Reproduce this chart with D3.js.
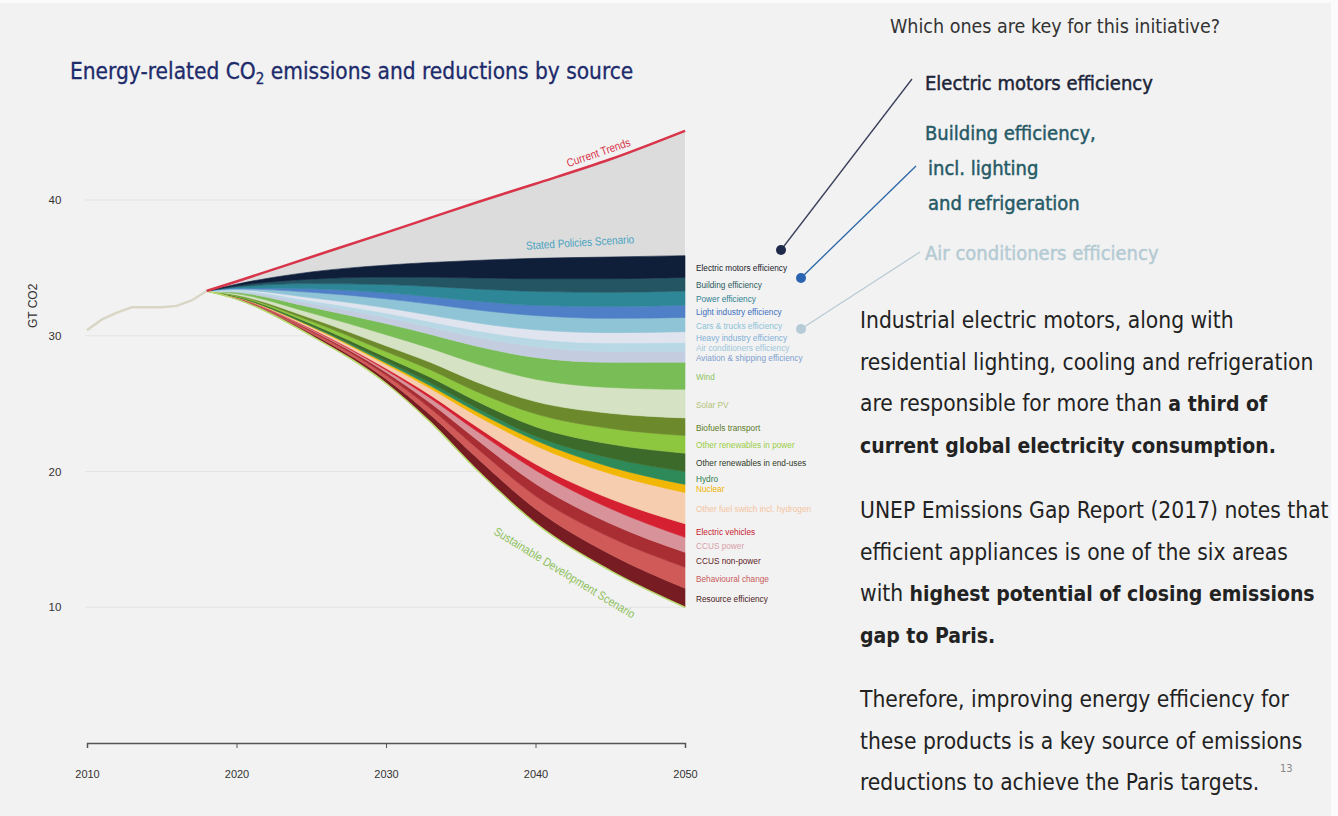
<!DOCTYPE html>
<html>
<head>
<meta charset="utf-8">
<script src="https://cdn.jsdelivr.net/npm/d3@7"></script>
<style>
  body { margin: 0; background: #f2f2f2; }
  svg { display: block; }
</style>
</head>
<body>
<svg id="chart" width="1338" height="816"></svg>
<script>
// ---- data (GT CO2) ----
const histYears = [2010, 2011, 2012, 2013, 2014, 2015, 2016, 2017, 2018];
const histValues = [30.4, 31.2, 31.7, 32.1, 32.1, 32.1, 32.2, 32.6, 33.3];

const years = [2018, 2020, 2025, 2030, 2033, 2036, 2040, 2045, 2050];
const currentTrends = [33.3, 34.0, 35.8, 37.6, 38.7, 39.8, 41.2, 43.0, 45.1];
const statedPolicies = [33.3, 33.8, 34.7, 35.2, 35.4, 35.55, 35.7, 35.8, 35.9];
const sustainable = [33.3, 32.7, 30.0, 26.5, 23.6, 20.2, 16.2, 12.7, 10.0];

// reductions, listed from the top of the wedge down
const electricMotors = [0, 0.12, 0.53, 0.88, 1.09, 1.29, 1.5, 1.6, 1.6];
const building = [0, 0.08, 0.33, 0.55, 0.68, 0.81, 0.93, 1.0, 1.0];
const power = [0, 0.08, 0.37, 0.61, 0.75, 0.89, 1.03, 1.05, 1.05];
const lightIndustry = [0, 0.06, 0.27, 0.44, 0.55, 0.65, 0.75, 0.87, 0.9];
const carsTrucks = [0, 0.09, 0.4, 0.66, 0.82, 0.95, 1.05, 1.05, 1.05];
const heavyIndustry = [0, 0.06, 0.23, 0.39, 0.48, 0.57, 0.68, 0.77, 0.8];
const airConditioners = [0, 0.05, 0.2, 0.33, 0.41, 0.48, 0.56, 0.62, 0.65];
const aviationShipping = [0, 0.06, 0.27, 0.44, 0.52, 0.66, 0.8, 0.8, 0.8];
const wind = [0, 0.1, 0.42, 0.82, 1.03, 1.3, 1.6, 1.85, 2.0];
const solarPV = [0, 0.1, 0.4, 0.82, 1.04, 1.33, 1.65, 1.9, 2.1];
const biofuels = [0, 0.05, 0.2, 0.42, 0.55, 0.7, 0.9, 1.12, 1.3];
const renPower = [0, 0.05, 0.2, 0.42, 0.55, 0.7, 0.95, 1.15, 1.3];
const renEndUses = [0, 0.03, 0.12, 0.28, 0.41, 0.5, 0.7, 1.03, 1.35];
const hydro = [0, 0.02, 0.06, 0.14, 0.22, 0.27, 0.3, 0.65, 0.95];
const nuclear = [0, 0.01, 0.05, 0.12, 0.2, 0.3, 0.4, 0.5, 0.6];
const fuelSwitch = [0, 0.02, 0.12, 0.28, 0.5, 0.8, 1.35, 1.85, 2.3];
const electricVehicles = [0, 0.01, 0.06, 0.12, 0.22, 0.32, 0.45, 0.72, 1.0];
const ccusPower = [0, 0.01, 0.06, 0.16, 0.36, 0.62, 1.0, 1.1, 1.1];
const ccusNonPower = [0, 0.02, 0.09, 0.22, 0.4, 0.62, 0.9, 1.02, 1.1];
const behavioural = [0, 0.04, 0.15, 0.28, 0.47, 0.7, 0.95, 1.25, 1.55];
const resourceEff = [0, 0.04, 0.17, 0.32, 0.55, 0.89, 1.05, 1.2, 1.4];

const layerNames = [
  'Electric motors efficiency', 'Building efficiency', 'Power efficiency',
  'Light industry efficiency', 'Cars & trucks efficiency', 'Heavy industry efficiency',
  'Air conditioners efficiency', 'Aviation & shipping efficiency', 'Wind', 'Solar PV',
  'Biofuels transport', 'Other renewables in power', 'Other renewables in end-uses',
  'Hydro', 'Nuclear', 'Other fuel switch incl. hydrogen', 'Electric vehicles',
  'CCUS power', 'CCUS non-power', 'Behavioural change', 'Resource efficiency'
];
const layerValues = [
  electricMotors, building, power, lightIndustry, carsTrucks, heavyIndustry,
  airConditioners, aviationShipping, wind, solarPV, biofuels, renPower, renEndUses,
  hydro, nuclear, fuelSwitch, electricVehicles, ccusPower, ccusNonPower,
  behavioural, resourceEff
];
const layerColors = [
  '#0f1f3a', '#235563', '#2e8797', '#4f7fc6', '#8fc4d6', '#dfe4ee',
  '#b8d8e6', '#c4cce0', '#78bd55', '#d5e2c3', '#6c8a2b', '#8dc63f', '#3c6a2a',
  '#2f8a5a', '#f2b705', '#f7cdb0', '#d42030', '#d8939a', '#a82e34',
  '#cf5a58', '#761c22'
];
const labelColors = [
  '#1a1a2e', '#2d5a60', '#2f7f92', '#3f6fc0', '#8cc3d8', '#7fb0d8',
  '#a0c8dc', '#7f9fcf', '#8cc460', '#b5c27a', '#5c7a2a', '#9acd45', '#2f3a28',
  '#2e7d4f', '#f0b400', '#f5c4a0', '#c8202f', '#d9a0a8', '#5a1a1e',
  '#c85a5a', '#4a1a1a'
];

const xTicks = [2010, 2020, 2030, 2040, 2050];
const yTicks = [10, 20, 30, 40];

// ---- layout ----
const svg = d3.select('#chart');
const sans = "'Liberation Sans', Arial, sans-serif";
const slide = "'DejaVu Sans Condensed', 'DejaVu Sans', sans-serif";

const x = d3.scaleLinear().domain([2010, 2050]).range([87, 685]);
const y = d3.scaleLinear().domain([0, 40]).range([743, 200]);

// slide frame edges
svg.append('rect').attr('x', 0).attr('y', 0).attr('width', 1338).attr('height', 3).attr('fill', '#fbfbfb');
svg.append('rect').attr('x', 1331).attr('y', 0).attr('width', 7).attr('height', 816).attr('fill', '#fbfbfb');

// narrow label helper: squeeze text horizontally like a condensed face
const narrowText = (g, px, py, angle, txt, size, color, anchor) =>
  g.append('text')
    .attr('transform', `translate(${px},${py}) rotate(${angle}) scale(0.87,1)`)
    .attr('text-anchor', anchor || 'start')
    .attr('font-family', sans)
    .attr('font-size', size)
    .attr('fill', color)
    .text(txt);

// gridlines
svg.append('g')
  .selectAll('line')
  .data(yTicks)
  .join('line')
  .attr('x1', x(2010) - 2)
  .attr('x2', x(2050))
  .attr('y1', (d) => y(d))
  .attr('y2', (d) => y(d))
  .attr('stroke', '#e4e4e4')
  .attr('stroke-width', 1);

// y tick labels (no axis line)
svg.append('g')
  .selectAll('text')
  .data(yTicks)
  .join('text')
  .attr('x', 55)
  .attr('y', (d) => y(d) + 4)
  .attr('text-anchor', 'middle')
  .attr('font-family', sans)
  .attr('font-size', 11.5)
  .attr('fill', '#333')
  .text((d) => d);

svg.append('text')
  .attr('transform', `translate(37,${y(32.2)}) rotate(-90)`)
  .attr('text-anchor', 'middle')
  .attr('font-family', sans)
  .attr('font-size', 12)
  .attr('fill', '#333')
  .text('GT CO2');

// x axis
const xAxisGroup = svg.append('g')
  .attr('transform', `translate(0,${y(0)})`)
  .call(d3.axisBottom(x).tickValues(xTicks).tickFormat(d3.format('d')).tickSize(5).tickPadding(22));
xAxisGroup.select('.domain').attr('stroke', '#555').attr('stroke-width', 1.5);
xAxisGroup.selectAll('.tick line').attr('stroke', '#555');
xAxisGroup.selectAll('.tick text')
  .attr('font-family', sans)
  .attr('font-size', 11)
  .attr('fill', '#333');

// stacked wedges, sitting on the sustainable development path
const rows = years.map((yr, i) => {
  const r = { year: yr };
  layerNames.forEach((n, k) => { r[n] = layerValues[k][i]; });
  return r;
});
const stacked = d3.stack().keys(layerNames.slice().reverse())(rows);
const colorOf = d3.scaleOrdinal().domain(layerNames).range(layerColors);

const area = d3.area()
  .x((d, i) => x(years[i]))
  .y0((d, i) => y(d[0] + sustainable[i]))
  .y1((d, i) => y(d[1] + sustainable[i]))
  .curve(d3.curveMonotoneX);

// grey band between current trends and the top of the wedges
const topSeries = stacked[stacked.length - 1];
svg.append('path')
  .datum(years)
  .attr('fill', '#dcdcdc')
  .attr('d', d3.area()
    .x((d) => x(d))
    .y0((d, i) => y(topSeries[i][1] + sustainable[i]))
    .y1((d, i) => y(currentTrends[i]))
    .curve(d3.curveMonotoneX));

svg.append('g')
  .selectAll('path')
  .data(stacked)
  .join('path')
  .attr('fill', (d) => colorOf(d.key))
  .attr('stroke', (d) => colorOf(d.key))
  .attr('stroke-width', 0.6)
  .attr('d', area);

const line = d3.line().x((d, i) => x(years[i])).y((d) => y(d)).curve(d3.curveMonotoneX);

svg.append('path')
  .datum(sustainable)
  .attr('fill', 'none')
  .attr('stroke', '#b9dc6e')
  .attr('stroke-width', 1.5)
  .attr('d', line);

svg.append('path')
  .datum(currentTrends)
  .attr('fill', 'none')
  .attr('stroke', '#d8344a')
  .attr('stroke-width', 2.5)
  .attr('d', line);

svg.append('path')
  .datum(histValues)
  .attr('fill', 'none')
  .attr('stroke', '#d9d6c6')
  .attr('stroke-width', 2.5)
  .attr('d', d3.line().x((d, i) => x(histYears[i])).y((d) => y(d)));

// scenario labels
narrowText(svg, x(2044.3), y(42.7) - 7, -19, 'Current Trends', 11.5, '#d8344a', 'middle');
narrowText(svg, x(2043.0), y(35.7) - 12, -3.5, 'Stated Policies Scenario', 11.5, '#4aa3c0', 'middle');
narrowText(svg, x(2041.8), y(14.2) + 26, 31.5, 'Sustainable Development Scenario', 12, '#8cbf5a', 'middle');

// wedge labels at 2050
const last = years.length - 1;
const labelGroup = svg.append('g');
stacked.forEach((d) => {
  const mid = (d[last][0] + d[last][1]) / 2 + sustainable[last];
  narrowText(labelGroup, x(2050) + 11, y(mid) + 4, 0, d.key, 9.5,
    labelColors[layerNames.indexOf(d.key)]);
});

// title
const title = svg.append('text')
  .attr('x', 70)
  .attr('y', 79)
  .attr('font-family', slide)
  .attr('font-size', 22.5)
  .attr('fill', '#1d2b6b')
  .attr('stroke', '#1d2b6b')
  .attr('stroke-width', 0.3);
title.append('tspan').text('Energy-related CO');
title.append('tspan').attr('font-size', 15).attr('dy', 5).text('2');
title.append('tspan').attr('dy', -5).text(' emissions and reductions by source');

// ---- right-hand panel ----
svg.append('text')
  .attr('x', 890)
  .attr('y', 33)
  .attr('font-family', slide)
  .attr('font-size', 19.5)
  .attr('fill', '#333')
  .text('Which ones are key for this initiative?');

const callouts = [
  { lines: ['Electric motors efficiency'], color: '#1c2438', lineColor: '#3a3f5a', dot: '#1f2a4a', y0: 90, from: [781, 250], to: [912, 79] },
  { lines: ['Building efficiency,', 'incl. lighting', 'and refrigeration'], color: '#255a66', lineColor: '#2a66a8', dot: '#2a64b0', y0: 140, from: [801, 278], to: [916, 166] },
  { lines: ['Air conditioners efficiency'], color: '#b4cbd4', lineColor: '#b9ccd4', dot: '#b5cbd5', y0: 260, from: [801, 329], to: [920, 252] }
];
callouts.forEach((c) => {
  svg.append('line')
    .attr('x1', c.from[0]).attr('y1', c.from[1])
    .attr('x2', c.to[0]).attr('y2', c.to[1])
    .attr('stroke', c.lineColor)
    .attr('stroke-width', 1.3);
  svg.append('circle')
    .attr('cx', c.from[0]).attr('cy', c.from[1]).attr('r', 5)
    .attr('fill', c.dot);
  c.lines.forEach((t, i) => {
    svg.append('text')
      .attr('x', i === 0 ? 925 : 928)
      .attr('y', c.y0 + i * 35)
      .attr('font-family', slide)
      .attr('font-size', 20)
      .attr('fill', c.color)
      .attr('stroke', c.color)
      .attr('stroke-width', 0.45)
      .text(t);
  });
});

const paragraphs = [
  { y0: 328, lines: [
    [['Industrial electric motors, along with', false]],
    [['residential lighting, cooling and refrigeration', false]],
    [['are responsible for more than ', false], ['a third of', true]],
    [['current global electricity consumption.', true]]
  ] },
  { y0: 518, lines: [
    [['UNEP Emissions Gap Report (2017) notes that', false]],
    [['efficient appliances is one of the six areas', false]],
    [['with ', false], ['highest potential of closing emissions', true]],
    [['gap to Paris.', true]]
  ] },
  { y0: 707, lines: [
    [['Therefore, improving energy efficiency for', false]],
    [['these products is a key source of emissions', false]],
    [['reductions to achieve the Paris targets.', false]]
  ] }
];
paragraphs.forEach((p) => {
  p.lines.forEach((segs, i) => {
    const t = svg.append('text')
      .attr('x', 860)
      .attr('y', p.y0 + i * 41.5)
      .attr('font-family', slide)
      .attr('fill', '#222');
    segs.forEach(([s, bold]) => {
      t.append('tspan')
        .attr('font-weight', bold ? 'bold' : 'normal')
        .attr('font-size', bold ? 21 : 22.6)
        .text(s);
    });
  });
});

svg.append('text')
  .attr('x', 1280)
  .attr('y', 772)
  .attr('font-family', slide)
  .attr('font-size', 11)
  .attr('fill', '#888')
  .text('13');
</script>
</body>
</html>
